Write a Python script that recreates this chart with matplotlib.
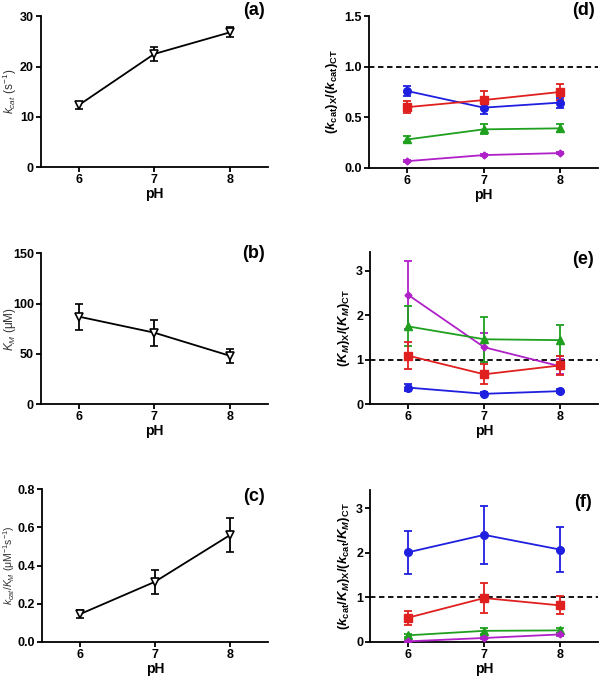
import numpy as np
import matplotlib
matplotlib.use("Agg")
import matplotlib.pyplot as plt

plt.rcParams['font.family'] = ['Liberation Sans', 'DejaVu Sans']
plt.rcParams['mathtext.fontset'] = 'custom'
plt.rcParams['mathtext.rm'] = 'Liberation Sans'
plt.rcParams['mathtext.it'] = 'Liberation Sans:italic'
plt.rcParams['mathtext.bf'] = 'Liberation Sans:bold'
plt.rcParams['mathtext.bfit'] = 'Liberation Sans:bold:italic'

ph = [6, 7, 8]

# left column: wild type values
kcat = [12.3, 22.5, 26.8]
kcat_err = [0.7, 1.3, 1.0]
km = [87, 71, 48]
km_err = [13, 13, 7]
eff = [0.145, 0.315, 0.56]
eff_err = [0.02, 0.063, 0.09]

# right column: variant / CT ratios (blue, red, green, purple)
kcat_ratio = {
    'blue': ([0.76, 0.595, 0.645], [0.05, 0.06, 0.05]),
    'red': ([0.60, 0.67, 0.75], [0.06, 0.09, 0.08]),
    'green': ([0.28, 0.38, 0.39], [0.03, 0.05, 0.04]),
    'purple': ([0.065, 0.125, 0.145], [0.01, 0.01, 0.01]),
}
km_ratio = {
    'purple': ([2.46, 1.28, 0.85], [0.77, 0.33, 0.17]),
    'green': ([1.75, 1.46, 1.44], [0.45, 0.51, 0.35]),
    'red': ([1.09, 0.67, 0.87], [0.30, 0.23, 0.22]),
    'blue': ([0.37, 0.23, 0.29], [0.07, 0.03, 0.05]),
}
eff_ratio = {
    'blue': ([2.01, 2.40, 2.07], [0.48, 0.65, 0.50]),
    'red': ([0.545, 0.985, 0.82], [0.16, 0.34, 0.20]),
    'green': ([0.15, 0.25, 0.26], [0.03, 0.07, 0.06]),
    'purple': ([0.015, 0.09, 0.17], [0.02, 0.03, 0.03]),
}

styles = {
    'blue': dict(color='#1f1fe0', marker='o', ms=5.5),
    'red': dict(color='#e01f1f', marker='s', ms=5.5),
    'green': dict(color='#1fa01f', marker='^', ms=5.5),
    'purple': dict(color='#b020c8', marker='D', ms=3.5),
}

fig = plt.figure(figsize=(6, 6.79), dpi=100)

def style_axis(ax, ylim, yticks, letter, lx, ly):
    ax.spines['top'].set_visible(False)
    ax.spines['right'].set_visible(False)
    for s in ('left', 'bottom'):
        ax.spines[s].set_linewidth(1.3)
    ax.set_xlim(5.5, 8.5)
    ax.set_xticks(ph)
    ax.set_ylim(*ylim)
    ax.set_yticks(yticks)
    ax.tick_params(width=1.3, length=3.5, pad=1.5, labelsize=9)
    for t in ax.get_xticklabels() + ax.get_yticklabels():
        t.set_fontweight('bold')
    ax.set_xlabel('pH', fontsize=10, fontweight='bold', labelpad=1)
    ax.text(lx, ly, letter, transform=ax.transAxes, fontsize=13,
            fontweight='bold', ha='center', va='center')

def left_panel(rect, y, err, ylim, yticks, ylabel, letter, ly, fmt, lab_x=-0.135, lab_fs=8.5):
    ax = fig.add_axes(rect)
    ax.errorbar(ph, y, yerr=err, color='black', lw=1.3, elinewidth=1.3,
                capsize=3, capthick=1.3, marker='v', ms=6,
                mfc='white', mec='black', mew=1.2)
    style_axis(ax, ylim, yticks, letter, 0.94, ly)
    ax.yaxis.set_major_formatter(plt.FormatStrFormatter(fmt))
    ax.set_ylabel(ylabel, fontsize=lab_fs, color='#333333', va='center')
    ax.yaxis.set_label_coords(lab_x, 0.5)
    return ax

def right_panel(rect, data, ylim, yticks, ylabel, letter, ly, fmt):
    ax = fig.add_axes(rect)
    ax.axhline(1.0, color='black', ls=(0, (3, 2)), lw=1.3, zorder=1)
    for name, (y, err) in data.items():
        st = styles[name]
        ax.errorbar(ph, y, yerr=err, color=st['color'], lw=1.3,
                    elinewidth=1.3, capsize=3, capthick=1.3,
                    marker=st['marker'], ms=st['ms'], zorder=3)
    style_axis(ax, ylim, yticks, letter, 0.935, ly)
    ax.yaxis.set_major_formatter(plt.FormatStrFormatter(fmt))
    ax.set_ylabel(ylabel, fontsize=9.5, labelpad=3)
    return ax

left_panel([0.068, 0.754, 0.378, 0.222], kcat, kcat_err, (0, 30), [0, 10, 20, 30],
           r'$k_{cat}$ (s$^{-1}$)', '(a)', 1.04, '%d')
left_panel([0.068, 0.405, 0.378, 0.222], km, km_err, (0, 150), [0, 50, 100, 150],
           r'$K_M$ (μM)', '(b)', 1.0, '%d')
left_panel([0.07, 0.0545, 0.376, 0.225], eff, eff_err, (0, 0.8), [0, 0.2, 0.4, 0.6, 0.8],
           r'$k_{cat}/K_M$ (μM$^{-1}$s$^{-1}$)', '(c)', 0.95, '%.1f',
           lab_x=-0.148, lab_fs=7.5)

right_panel([0.615, 0.753, 0.382, 0.223], kcat_ratio, (0, 1.5), [0, 0.5, 1.0, 1.5],
            r'$\mathbf{(}\mathbfit{k}_{\mathbf{cat}}\mathbf{)}_{\mathbf{X}}'
            r'\mathbf{/(}\mathbfit{k}_{\mathbf{cat}}\mathbf{)}_{\mathbf{CT}}$',
            '(d)', 1.04, '%.1f')
right_panel([0.617, 0.405, 0.38, 0.224], km_ratio, (0, 3.43), [0, 1, 2, 3],
            r'$\mathbf{(}\mathbfit{K}_{\mathbfit{M}}\mathbf{)}_{\mathbf{X}}'
            r'\mathbf{/(}\mathbfit{K}_{\mathbfit{M}}\mathbf{)}_{\mathbf{CT}}$',
            '(e)', 0.95, '%d')
right_panel([0.617, 0.0545, 0.38, 0.2235], eff_ratio, (0, 3.4), [0, 1, 2, 3],
            r'$\mathbf{(}\mathbfit{k}_{\mathbf{cat}}\mathbf{/}\mathbfit{K}_{\mathbfit{M}}\mathbf{)}_{\mathbf{X}}'
            r'\mathbf{/(}\mathbfit{k}_{\mathbf{cat}}\mathbf{/}\mathbfit{K}_{\mathbfit{M}}\mathbf{)}_{\mathbf{CT}}$',
            '(f)', 0.92, '%d')

fig.savefig('out.png', dpi=100)
